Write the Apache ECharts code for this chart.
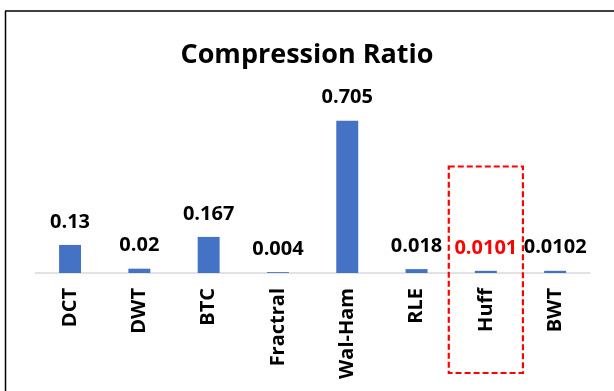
<!DOCTYPE html>
<html>
<head>
<meta charset="utf-8">
<script src="https://cdn.jsdelivr.net/npm/echarts@6/dist/echarts.min.js"></script>
<style>
  html, body { margin: 0; padding: 0; background: #fff; }
  #chart { width: 614px; height: 391px; }
</style>
</head>
<body>
<div id="chart"></div>
<script>
// Compression ratio per method
const methods = ['DCT', 'DWT', 'BTC', 'Fractral', 'Wal-Ham', 'RLE', 'Huff', 'BWT'];
const ratios = [0.13, 0.02, 0.167, 0.004, 0.705, 0.018, 0.0101, 0.0102];
const highlighted = 'Huff';

const FONT = '"Open Sans", "Liberation Sans", sans-serif';
const chart = echarts.init(document.getElementById('chart'));

const seriesData = ratios.map((v, i) => ({
  value: v,
  label: { color: methods[i] === highlighted ? '#ff0000' : '#000000' }
}));

chart.setOption({
  animation: false,
  backgroundColor: '#ffffff',
  title: {
    text: 'Compression Ratio',
    left: 'center',
    top: 37,
    textStyle: { fontFamily: FONT, fontWeight: 'bold', fontSize: 27, color: '#000' }
  },
  grid: { left: 35.4, right: 24.2, top: 100.2, bottom: 118, containLabel: false },
  xAxis: {
    type: 'category',
    data: methods,
    axisLine: { lineStyle: { color: '#d9d9d9', width: 1.5 } },
    axisTick: { show: false },
    axisLabel: {
      rotate: 90,
      margin: 15,
      interval: 0,
      fontFamily: FONT,
      fontWeight: 'bold',
      fontSize: 20,
      color: '#000'
    }
  },
  yAxis: {
    type: 'value',
    min: 0,
    max: 0.8,
    show: false,
    splitLine: { show: false }
  },
  series: [{
    type: 'bar',
    data: seriesData,
    barWidth: '31.7%',
    itemStyle: { color: '#4472c4' },
    label: {
      show: true,
      position: 'top',
      distance: 13,
      fontFamily: FONT,
      fontWeight: 'bold',
      fontSize: 20
    }
  }]
});

// Frame lines and the dashed box around the highlighted method
function drawOverlays() {
  const idx = methods.indexOf(highlighted);
  const center = chart.convertToPixel({ xAxisIndex: 0 }, idx);
  const step = chart.convertToPixel({ xAxisIndex: 0 }, idx + 1) - center;
  const baseY = chart.convertToPixel({ yAxisIndex: 0 }, 0);
  const halfW = step * 0.535;
  chart.setOption({
    graphic: [
      {
        type: 'line',
        shape: { x1: 5, y1: 11, x2: 614, y2: 11 },
        style: { stroke: '#000', lineWidth: 1.5 }
      },
      {
        type: 'line',
        shape: { x1: 5.5, y1: 11, x2: 5.5, y2: 391 },
        style: { stroke: '#000', lineWidth: 1.5 }
      },
      {
        type: 'rect',
        shape: { x: center - halfW, y: baseY - 106.5, width: halfW * 2, height: 206.5 },
        style: { fill: 'none', stroke: '#ff0000', lineWidth: 2.2, lineDash: [6, 3] },
        z: 100
      }
    ]
  });
}
drawOverlays();
</script>
</body>
</html>
